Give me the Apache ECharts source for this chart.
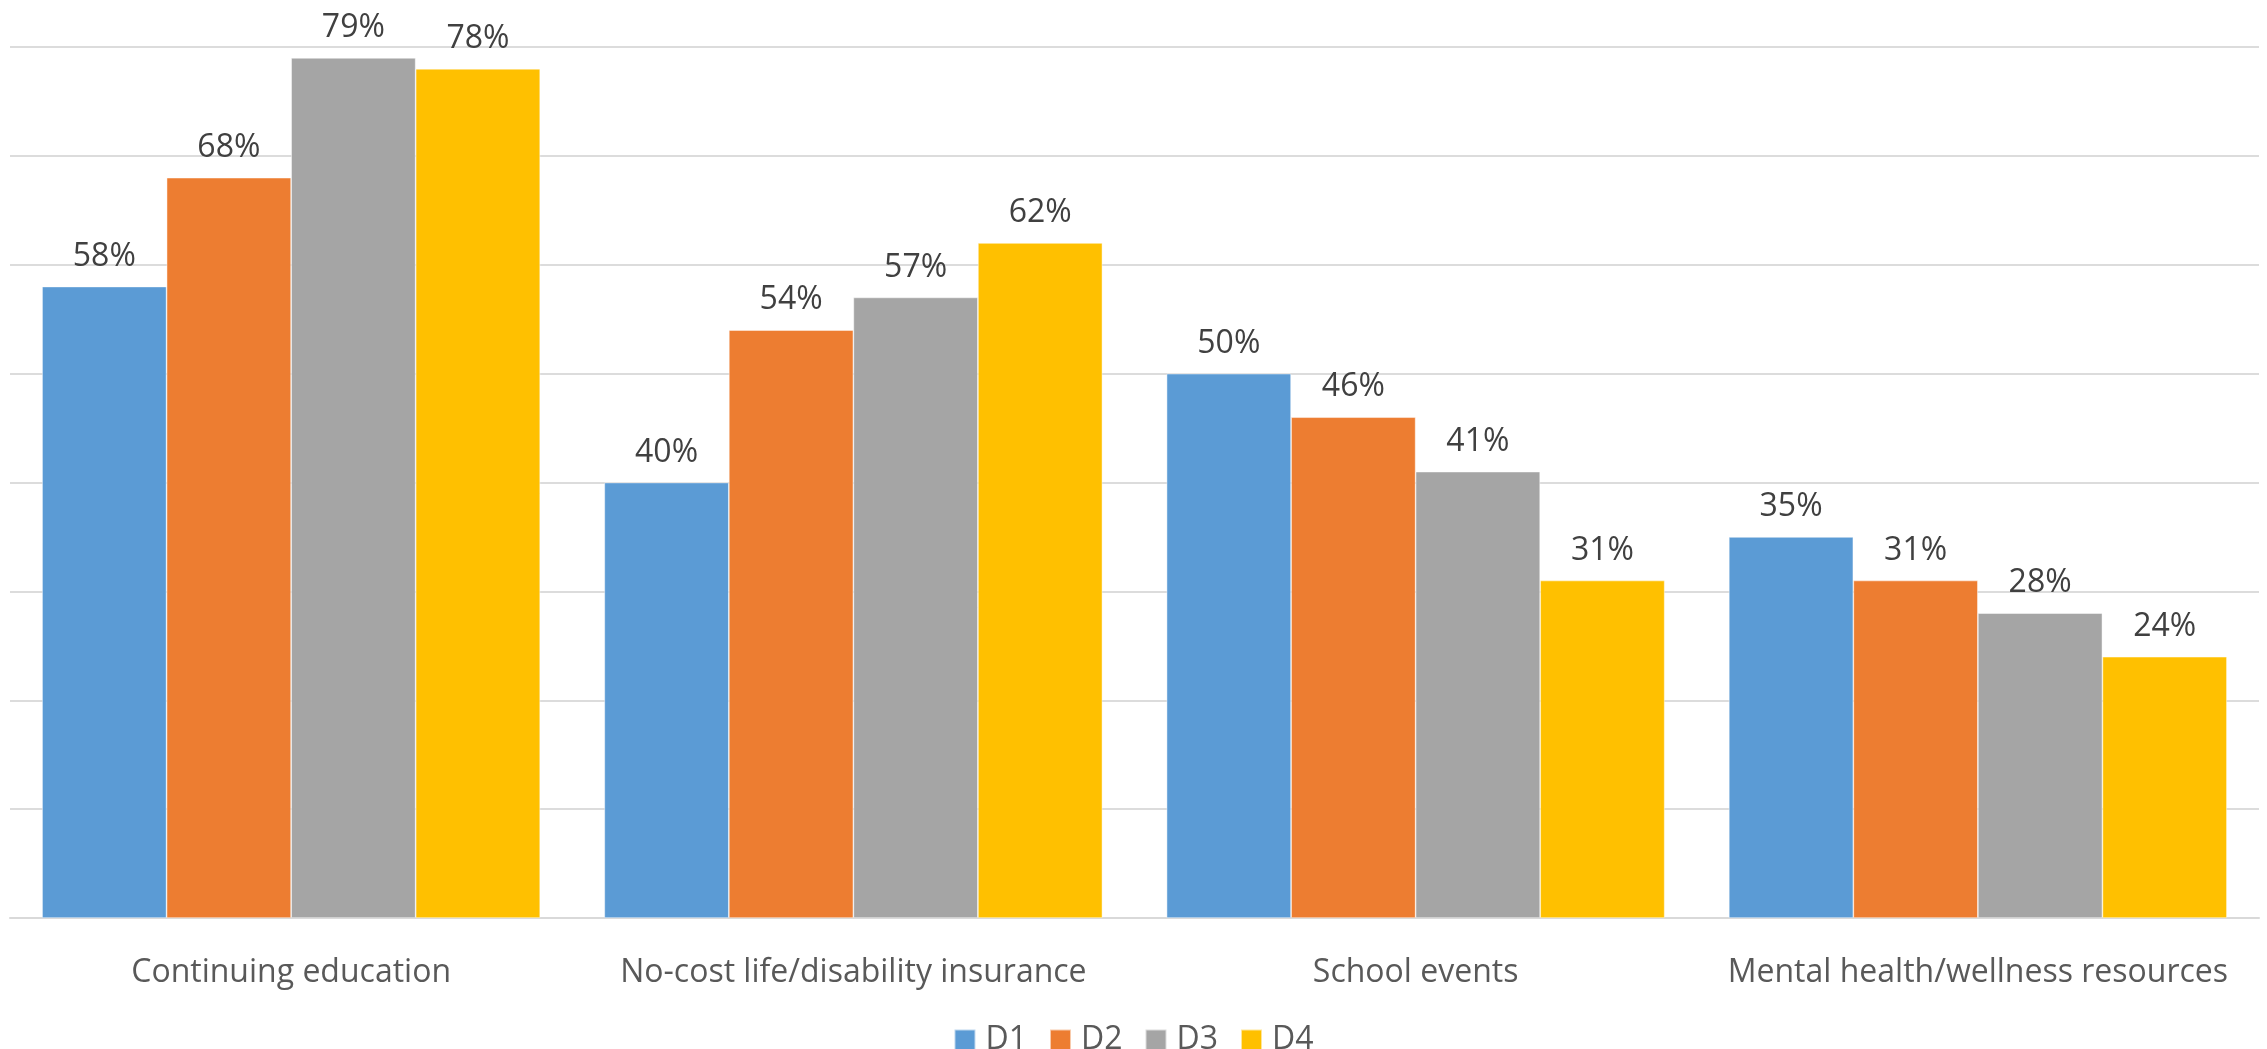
<!DOCTYPE html>
<html>
<head>
<meta charset="utf-8">
<title>Benefits by group</title>
<script src="https://cdn.jsdelivr.net/npm/echarts@6/dist/echarts.min.js"></script>
<style>
  html, body { margin: 0; padding: 0; background: #ffffff; }
  #chart { width: 2267px; height: 1049px; }
</style>
</head>
<body>
<div id="chart"></div>
<script>
// Categories along the x axis
const categories = [
  'Continuing education',
  'No-cost life/disability insurance',
  'School events',
  'Mental health/wellness resources'
];

// Percentages for each group
const d1 = [58, 40, 50, 35];
const d2 = [68, 54, 46, 31];
const d3 = [79, 57, 41, 28];
const d4 = [78, 62, 31, 24];

const seriesNames = ['D1', 'D2', 'D3', 'D4'];
const seriesValues = [d1, d2, d3, d4];
const seriesColors = ['#5B9BD5', '#ED7D31', '#A5A5A5', '#FFC000'];

const FONT = '"Open Sans", "Noto Sans", sans-serif';

const chart = echarts.init(document.getElementById('chart'), null, { renderer: 'canvas' });

const series = seriesNames.map((name, i) => ({
  name: name,
  type: 'bar',
  data: seriesValues[i],
  barGap: '0%',
  barCategoryGap: '11.4%',
  itemStyle: {
    color: seriesColors[i],
    borderColor: 'rgba(255,255,255,0.6)',
    borderWidth: 0.75
  },
  label: {
    show: true,
    position: 'top',
    distance: 14,
    formatter: '{c}%',
    color: '#404040',
    fontFamily: FONT,
    fontSize: 32
  },
  emphasis: { disabled: true }
}));

chart.setOption({
  animation: false,
  backgroundColor: '#ffffff',
  color: seriesColors,
  grid: {
    left: 10,
    right: 8,
    top: 47,
    bottom: 131
  },
  legend: {
    data: seriesNames,
    top: 1019,
    left: 'center',
    icon: 'rect',
    itemWidth: 21,
    itemHeight: 21,
    itemGap: 22,
    textStyle: {
      color: '#595959',
      fontFamily: FONT,
      fontSize: 32,
      padding: [0, 0, 0, 5]
    }
  },
  xAxis: {
    type: 'category',
    data: categories,
    axisLine: { show: true, lineStyle: { color: '#d9d9d9', width: 2 } },
    axisTick: { show: false },
    axisLabel: {
      color: '#595959',
      fontFamily: FONT,
      fontSize: 32,
      margin: 39,
      interval: 0
    }
  },
  yAxis: {
    type: 'value',
    min: 0,
    max: 80,
    interval: 10,
    axisLine: { show: false },
    axisTick: { show: false },
    axisLabel: { show: false },
    splitLine: { show: true, lineStyle: { color: '#dcdcdc', width: 2 } }
  },
  series: series
});
</script>
</body>
</html>
